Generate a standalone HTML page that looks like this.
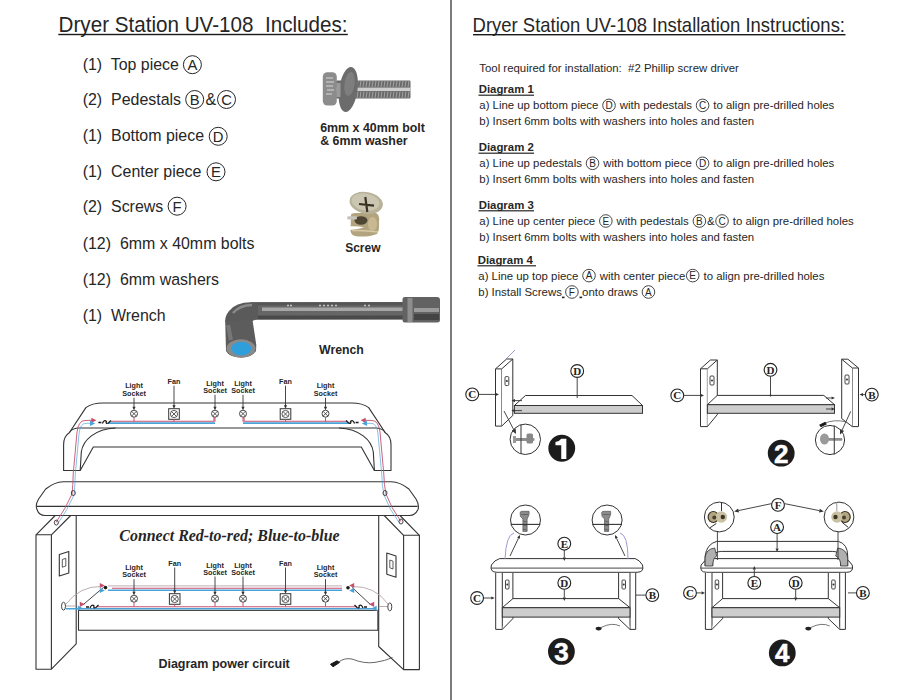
<!DOCTYPE html>
<html><head><meta charset="utf-8"><title>Dryer Station UV-108</title>
<style>
html,body{margin:0;padding:0;background:#fff;width:901px;height:700px;overflow:hidden}
svg{display:block}
text{font-family:"Liberation Sans",sans-serif;white-space:pre}
.sf{font-family:"Liberation Serif",serif}
</style></head><body>
<svg width="901" height="700" viewBox="0 0 901 700">
<rect width="901" height="700" fill="#fff"/>
<line x1="451" y1="0" x2="451" y2="700" stroke="#7c7c7c" stroke-width="2"/>
<text x="58.60" y="31.80" font-size="21.6" font-weight="normal" fill="#262626" text-anchor="start" textLength="289" lengthAdjust="spacingAndGlyphs">Dryer Station UV-108  Includes:</text>
<rect x="58.3" y="33.8" width="289.5" height="1.4" fill="#1a1a1a"/>
<text x="472.60" y="32.10" font-size="20.6" font-weight="normal" fill="#262626" text-anchor="start" textLength="372.4" lengthAdjust="spacingAndGlyphs">Dryer Station UV-108 Installation Instructions:</text>
<rect x="473" y="34.0" width="372.5" height="1.4" fill="#1a1a1a"/>
<text x="82.70" y="70.00" font-size="15.95" font-weight="normal" fill="#262626" text-anchor="start" >(1)  Top piece</text>
<text x="82.70" y="105.00" font-size="15.95" font-weight="normal" fill="#262626" text-anchor="start" >(2)  Pedestals</text>
<text x="82.70" y="141.00" font-size="15.95" font-weight="normal" fill="#262626" text-anchor="start" >(1)  Bottom piece</text>
<text x="82.70" y="177.00" font-size="15.95" font-weight="normal" fill="#262626" text-anchor="start" >(1)  Center piece</text>
<text x="82.70" y="212.40" font-size="15.95" font-weight="normal" fill="#262626" text-anchor="start" >(2)  Screws</text>
<text x="82.70" y="249.00" font-size="15.95" font-weight="normal" fill="#262626" text-anchor="start" >(12)  6mm x 40mm bolts</text>
<text x="82.70" y="285.00" font-size="15.95" font-weight="normal" fill="#262626" text-anchor="start" >(12)  6mm washers</text>
<text x="82.70" y="321.00" font-size="15.95" font-weight="normal" fill="#262626" text-anchor="start" >(1)  Wrench</text>
<circle cx="192.40" cy="64.70" r="9" fill="none" stroke="#262626" stroke-width="1.0"/>
<text x="192.40" y="70.00" font-size="14.8" font-weight="normal" fill="#262626" text-anchor="middle">A</text>
<circle cx="194.70" cy="99.50" r="9" fill="none" stroke="#262626" stroke-width="1.0"/>
<text x="194.70" y="104.80" font-size="14.8" font-weight="normal" fill="#262626" text-anchor="middle">B</text>
<circle cx="226.50" cy="99.50" r="9" fill="none" stroke="#262626" stroke-width="1.0"/>
<text x="226.50" y="104.80" font-size="14.8" font-weight="normal" fill="#262626" text-anchor="middle">C</text>
<circle cx="218.20" cy="136.30" r="9" fill="none" stroke="#262626" stroke-width="1.0"/>
<text x="218.20" y="141.60" font-size="14.8" font-weight="normal" fill="#262626" text-anchor="middle">D</text>
<circle cx="216.00" cy="171.80" r="9" fill="none" stroke="#262626" stroke-width="1.0"/>
<text x="216.00" y="177.10" font-size="14.8" font-weight="normal" fill="#262626" text-anchor="middle">E</text>
<circle cx="177.10" cy="206.20" r="9" fill="none" stroke="#262626" stroke-width="1.0"/>
<text x="177.10" y="211.50" font-size="14.8" font-weight="normal" fill="#262626" text-anchor="middle">F</text>
<text x="205.60" y="105.00" font-size="15.95" font-weight="normal" fill="#262626" text-anchor="start" >&amp;</text>
<text x="479.30" y="71.60" font-size="11.4" font-weight="normal" fill="#262626" text-anchor="start" >Tool required for installation:  #2 Phillip screw driver</text>
<text x="478.70" y="93.20" font-size="11.4" font-weight="bold" fill="#262626" text-anchor="start" >Diagram 1</text>
<rect x="478.50" y="94.60" width="55.50" height="1.2" fill="#262626"/>
<text x="479.30" y="109.40" font-size="11.4" font-weight="normal" fill="#262626" text-anchor="start" >a) Line up bottom piece </text>
<circle cx="609.01" cy="105.40" r="6.3" fill="none" stroke="#262626" stroke-width="0.85"/>
<text x="609.01" y="109.00" font-size="10" font-weight="normal" fill="#262626" text-anchor="middle">D</text>
<text x="616.61" y="109.40" font-size="11.4" font-weight="normal" fill="#262626" text-anchor="start" > with pedestals </text>
<circle cx="702.58" cy="105.40" r="6.3" fill="none" stroke="#262626" stroke-width="0.85"/>
<text x="702.58" y="109.00" font-size="10" font-weight="normal" fill="#262626" text-anchor="middle">C</text>
<text x="710.18" y="109.40" font-size="11.4" font-weight="normal" fill="#262626" text-anchor="start" > to align pre-drilled holes</text>
<text x="479.30" y="125.20" font-size="11.4" font-weight="normal" fill="#262626" text-anchor="start" >b) Insert 6mm bolts with washers into holes and fasten</text>
<text x="478.70" y="151.20" font-size="11.4" font-weight="bold" fill="#262626" text-anchor="start" >Diagram 2</text>
<rect x="478.50" y="152.60" width="55.50" height="1.2" fill="#262626"/>
<text x="479.30" y="167.30" font-size="11.4" font-weight="normal" fill="#262626" text-anchor="start" >a) Line up pedestals </text>
<circle cx="592.54" cy="163.30" r="6.3" fill="none" stroke="#262626" stroke-width="0.85"/>
<text x="592.54" y="166.90" font-size="10" font-weight="normal" fill="#262626" text-anchor="middle">B</text>
<text x="600.14" y="167.30" font-size="11.4" font-weight="normal" fill="#262626" text-anchor="start" > with bottom piece </text>
<circle cx="702.58" cy="163.30" r="6.3" fill="none" stroke="#262626" stroke-width="0.85"/>
<text x="702.58" y="166.90" font-size="10" font-weight="normal" fill="#262626" text-anchor="middle">D</text>
<text x="710.18" y="167.30" font-size="11.4" font-weight="normal" fill="#262626" text-anchor="start" > to align pre-drilled holes</text>
<text x="479.30" y="183.30" font-size="11.4" font-weight="normal" fill="#262626" text-anchor="start" >b) Insert 6mm bolts with washers into holes and fasten</text>
<text x="478.70" y="208.80" font-size="11.4" font-weight="bold" fill="#262626" text-anchor="start" >Diagram 3</text>
<rect x="478.50" y="210.20" width="55.50" height="1.2" fill="#262626"/>
<text x="479.30" y="225.00" font-size="11.4" font-weight="normal" fill="#262626" text-anchor="start" >a) Line up center piece </text>
<circle cx="605.84" cy="221.00" r="6.3" fill="none" stroke="#262626" stroke-width="0.85"/>
<text x="605.84" y="224.60" font-size="10" font-weight="normal" fill="#262626" text-anchor="middle">E</text>
<text x="613.44" y="225.00" font-size="11.4" font-weight="normal" fill="#262626" text-anchor="start" > with pedestals </text>
<circle cx="699.41" cy="221.00" r="6.3" fill="none" stroke="#262626" stroke-width="0.85"/>
<text x="699.41" y="224.60" font-size="10" font-weight="normal" fill="#262626" text-anchor="middle">B</text>
<text x="707.01" y="225.00" font-size="11.4" font-weight="normal" fill="#262626" text-anchor="start" >&amp;</text>
<circle cx="722.02" cy="221.00" r="6.3" fill="none" stroke="#262626" stroke-width="0.85"/>
<text x="722.02" y="224.60" font-size="10" font-weight="normal" fill="#262626" text-anchor="middle">C</text>
<text x="729.62" y="225.00" font-size="11.4" font-weight="normal" fill="#262626" text-anchor="start" > to align pre-drilled holes</text>
<text x="479.30" y="240.80" font-size="11.4" font-weight="normal" fill="#262626" text-anchor="start" >b) Insert 6mm bolts with washers into holes and fasten</text>
<text x="477.70" y="263.80" font-size="11.4" font-weight="bold" fill="#262626" text-anchor="start" >Diagram 4</text>
<rect x="477.50" y="265.20" width="58.50" height="1.2" fill="#262626"/>
<text x="478.30" y="279.60" font-size="11.4" font-weight="normal" fill="#262626" text-anchor="start" >a) Line up top piece </text>
<circle cx="589.00" cy="275.60" r="6.3" fill="none" stroke="#262626" stroke-width="0.85"/>
<text x="589.00" y="279.20" font-size="10" font-weight="normal" fill="#262626" text-anchor="middle">A</text>
<text x="596.60" y="279.60" font-size="11.4" font-weight="normal" fill="#262626" text-anchor="start" > with center piece</text>
<circle cx="692.71" cy="275.60" r="6.3" fill="none" stroke="#262626" stroke-width="0.85"/>
<text x="692.71" y="279.20" font-size="10" font-weight="normal" fill="#262626" text-anchor="middle">E</text>
<text x="700.31" y="279.60" font-size="11.4" font-weight="normal" fill="#262626" text-anchor="start" > to align pre-drilled holes</text>
<text x="478.30" y="296.00" font-size="11.4" font-weight="normal" fill="#262626" text-anchor="start" >b) Install Screws</text>
<rect x="561.92" y="296.60" width="2.6" height="1.6" fill="#262626"/>
<circle cx="571.92" cy="292.00" r="6.3" fill="none" stroke="#262626" stroke-width="0.85"/>
<text x="571.92" y="295.60" font-size="10" font-weight="normal" fill="#262626" text-anchor="middle">F</text>
<rect x="579.52" y="296.60" width="2.6" height="1.6" fill="#262626"/>
<text x="582.12" y="296.00" font-size="11.4" font-weight="normal" fill="#262626" text-anchor="start" >onto draws </text>
<circle cx="648.45" cy="292.00" r="6.3" fill="none" stroke="#262626" stroke-width="0.85"/>
<text x="648.45" y="295.60" font-size="10" font-weight="normal" fill="#262626" text-anchor="middle">A</text>
<g>
<rect x="336" y="80.5" width="74.5" height="18" rx="1" fill="#6a6a6a"/>
<rect x="336" y="87.6" width="74.5" height="3.4" fill="#cdcdcd"/>
<g stroke="#a9a9a9" stroke-width="0.9"><line x1="358" y1="81" x2="357" y2="87"/><line x1="358" y1="91.5" x2="357" y2="98"/><line x1="361" y1="81" x2="360" y2="87"/><line x1="361" y1="91.5" x2="360" y2="98"/><line x1="364" y1="81" x2="363" y2="87"/><line x1="364" y1="91.5" x2="363" y2="98"/><line x1="367" y1="81" x2="366" y2="87"/><line x1="367" y1="91.5" x2="366" y2="98"/><line x1="370" y1="81" x2="369" y2="87"/><line x1="370" y1="91.5" x2="369" y2="98"/><line x1="373" y1="81" x2="372" y2="87"/><line x1="373" y1="91.5" x2="372" y2="98"/><line x1="376" y1="81" x2="375" y2="87"/><line x1="376" y1="91.5" x2="375" y2="98"/><line x1="379" y1="81" x2="378" y2="87"/><line x1="379" y1="91.5" x2="378" y2="98"/><line x1="382" y1="81" x2="381" y2="87"/><line x1="382" y1="91.5" x2="381" y2="98"/><line x1="385" y1="81" x2="384" y2="87"/><line x1="385" y1="91.5" x2="384" y2="98"/><line x1="388" y1="81" x2="387" y2="87"/><line x1="388" y1="91.5" x2="387" y2="98"/><line x1="391" y1="81" x2="390" y2="87"/><line x1="391" y1="91.5" x2="390" y2="98"/><line x1="394" y1="81" x2="393" y2="87"/><line x1="394" y1="91.5" x2="393" y2="98"/><line x1="397" y1="81" x2="396" y2="87"/><line x1="397" y1="91.5" x2="396" y2="98"/><line x1="400" y1="81" x2="399" y2="87"/><line x1="400" y1="91.5" x2="399" y2="98"/><line x1="403" y1="81" x2="402" y2="87"/><line x1="403" y1="91.5" x2="402" y2="98"/><line x1="406" y1="81" x2="405" y2="87"/><line x1="406" y1="91.5" x2="405" y2="98"/><line x1="409" y1="81" x2="408" y2="87"/><line x1="409" y1="91.5" x2="408" y2="98"/></g>
<ellipse cx="348.3" cy="89.5" rx="9.2" ry="22.8" transform="rotate(8 348.3 89.5)" fill="#6c6c6c"/>
<ellipse cx="349.5" cy="84" rx="5" ry="12" transform="rotate(8 349.5 84)" fill="#7e7e7e"/>
<rect x="322.8" y="72.2" width="14" height="33.3" rx="4.5" fill="#8c8c8c"/>
<g stroke="#c8c8c8" stroke-width="1.3">
<line x1="326" y1="78" x2="333" y2="78"/><line x1="326" y1="82" x2="334" y2="82"/><line x1="326" y1="86" x2="333" y2="86"/><line x1="327" y1="90" x2="334" y2="90"/><line x1="326" y1="94" x2="332" y2="94"/>
</g>
<rect x="336.5" y="83" width="4" height="14" fill="#9a9a9a"/>
</g>
<text x="320.20" y="131.90" font-size="12.4" font-weight="bold" fill="#262626" text-anchor="start" >6mm x 40mm bolt</text>
<text x="320.20" y="145.20" font-size="12.4" font-weight="bold" fill="#262626" text-anchor="start" >&amp; 6mm washer</text>
<g>
<path d="M351 216 Q350 213 356 213 L376 213 Q380 215 379 222 Q379.5 231 377 234 Q370 237 358 236.5 Q351 236 350.5 231 Z" fill="#b2a47f"/>
<ellipse cx="372.5" cy="224" rx="4.5" ry="7" fill="#c8b993"/>
<ellipse cx="361" cy="220.5" rx="6.5" ry="4.2" fill="#4e4533"/>
<path d="M348 226.5 Q356 225.5 364 227.5 Q356 229.5 349 230 Z" fill="#fff"/>
<rect x="347.2" y="216.2" width="9.7" height="3.2" rx="1.2" fill="#c5c3bb"/>
<path d="M352 230.5 Q365 230 378 232" stroke="#d6c9a4" stroke-width="1.5" fill="none"/>
<ellipse cx="366.2" cy="202.9" rx="16.8" ry="10.8" transform="rotate(10 366.2 202.9)" fill="#b8b29b"/>
<ellipse cx="365.5" cy="202" rx="14" ry="8.5" transform="rotate(10 365.5 202)" fill="#cbc6b2"/>
<path d="M359 204 L374 205.6 M365.3 197 L367.3 212" stroke="#3a3122" stroke-width="2.2"/>
</g>
<text x="345.20" y="252.00" font-size="12" font-weight="bold" fill="#262626" text-anchor="start" >Screw</text>
<g>
<path d="M250 302.3 L403 302 L403 319.3 L255 319.6 Z" fill="#666"/>
<rect x="258" y="302.3" width="145" height="3" fill="#555"/>
<rect x="262" y="307.5" width="141" height="3.5" fill="#a6a6a6"/>
<rect x="258" y="315.5" width="145" height="4" fill="#4a4a4a"/>
<path d="M402.5 299 Q402.5 297 405 297 L437 297 Q440 297 440 300 L440 320 Q440 322.5 437 322.5 L405 322.5 Q402.5 322.5 402.5 320 Z" fill="#626262"/>
<rect x="407.5" y="298" width="5" height="24" fill="#8e8e8e"/>
<rect x="414" y="308" width="25" height="4" fill="#9a9a9a"/>
<rect x="414" y="314" width="25" height="6" fill="#444"/>
<path d="M252 302.3 Q236 302 229 311 Q224.5 317 225.2 322 L252.5 321 Q254 319.6 258 319.6 L258 302.3 Z" fill="#5a5a5a"/>
<path d="M233 313 Q240 305 252 305" stroke="#8a8a8a" stroke-width="2.5" fill="none"/>
<path d="M225.2 321 L252.5 320 L256.3 345 L256 351 Q251 358 241 357.5 Q229 357 226 351 Z" fill="#5c5c5c"/>
<path d="M228 325 L231 340" stroke="#777" stroke-width="4"/>
<ellipse cx="241" cy="348.5" rx="14.5" ry="9.2" fill="#8a8a8a"/>
<ellipse cx="241.3" cy="348.6" rx="10" ry="6.8" fill="#2e9fdb"/>
</g>
<g fill="#c9c9c9"><circle cx="288" cy="305.5" r="1"/><circle cx="291" cy="305.5" r="1"/><circle cx="320" cy="305.5" r="1"/><circle cx="324" cy="305.5" r="1"/><circle cx="328" cy="305.5" r="1"/><circle cx="332" cy="305.5" r="1"/><circle cx="336" cy="305.5" r="1"/><circle cx="365" cy="305.5" r="1"/><circle cx="369" cy="305.5" r="1"/></g>
<text x="319.00" y="353.70" font-size="12.3" font-weight="bold" fill="#262626" text-anchor="start" >Wrench</text>
<g fill="none" stroke="#333" stroke-width="1.1" stroke-linejoin="round">
<path d="M63.6 470.5 L63.6 445 Q63.6 436 69.3 432.7 L85.9 407.6 Q92 403 103 403 L351.6 403 Q362.6 403 368.7 407.6 L385.3 432.7 Q391 436 391 445 L391 470.5 L374.4 470.5 L361.3 447 L93.3 447 L80.2 470.5 Z"/>
<path d="M69.3 432.7 Q72 428.3 78 428 L376.6 428 Q382.6 428.3 385.3 432.7"/>
<path d="M80.2 470.5 L81.3 452 C83 440 95 429 115.6 428"/>
<path d="M374.4 470.5 L373.3 452 C371.6 440 359.6 429 339 428"/>
<path d="M63.2 481.8 L391.4 481.8 Q399.9 482 408.9 489 L416 499 Q419.5 505 418 509.5 Q415 515.5 409.6 515.5 L45 515.5 Q39 515.5 37 509.5 Q35 505 38.6 499 L45.7 489 Q54.7 482 63.2 481.8 Z"/>
<path d="M37 506.4 L417.6 506.4"/>
<path d="M36 669.2 L36 534.8 L51.4 534.8 L51.4 669.2 Z"/>
<path d="M36 534.8 L55.2 515.5 M51.4 534.8 L70.7 515.5 M51.4 669.2 L76.2 643.9 L76.2 515.5"/>
<path d="M59.3 554.5 L68.8 551.5 L68.8 573 L59.3 576 Z"/><path d="M62.3 559.5 L65.8 558.3 L65.8 566 L62.3 567.2 Z" stroke-width="0.8"/>
<path d="M403.6 669.6 L403.6 535.3 L419.4 535.3 L419.4 669.6 Z"/>
<path d="M419.4 535.3 L400 515.5 M403.6 535.3 L384.2 515.5 M403.6 669.6 L378.7 646.5 L378.7 515.5"/>
<path d="M386.8 553 L396 556 L396 577.3 L386.8 574.3 Z"/><path d="M389.8 560 L393 561.2 L393 569 L389.8 567.8 Z" stroke-width="0.8"/>
<path d="M78.5 609.7 L78.5 630.2 L377.9 630.2 L377.9 609.7"/>
</g>
<path d="M111 421.3 L214 421.3 L214 417 M244 417 L244 421.3 L347 421.3" stroke="#c4506e" stroke-width="1.1" fill="none"/>
<path d="M108 423.1 L215 423.1 M243 423.1 L350 423.1" stroke="#4aa3d8" stroke-width="1.7" fill="none"/>
<path d="M56 522.4 Q66 508 72 494 Q73 485 73.2 474 L77 432 Q78.5 420.5 85 420.5 L92 420.3" stroke="#c4506e" stroke-width="0.9" fill="none"/>
<path d="M58 523.5 Q68 509 74 495 Q75 486 75.2 475 L79 434 Q80 423.3 86 423.3 L90 423.3" stroke="#4aa3d8" stroke-width="0.9" fill="none" opacity="0.75"/>
<path d="M401 521.5 Q391 508 386 494 Q384 485 383.8 474 L380 432 Q378.5 420.5 372 420.5 L365 420.3" stroke="#c4506e" stroke-width="0.9" fill="none"/>
<path d="M399 522.5 Q389 509 384 495 Q382 486 381.8 475 L378 434 Q377 423.3 371 423.3 L367 423.3" stroke="#4aa3d8" stroke-width="0.9" fill="none" opacity="0.75"/>
<path d="M91.3 417.7 L96.4 420.3 L91.3 422.9Z" fill="#c4506e"/>
<path d="M90.0 420.8 L95.1 423.4 L90.0 426.0Z" fill="#4aa3d8"/>
<path d="M365.7 417.7 L360.6 420.3 L365.7 422.9Z" fill="#c4506e"/>
<path d="M367.0 420.8 L361.9 423.4 L367.0 426.0Z" fill="#4aa3d8"/>
<path d="M98.4 422.5 L101.4 422.5 M102.4 423.5 Q104.4 419 106.4 421.5 Q105.4 424 108.4 423 L110.9 420.5" stroke="#1a1a1a" stroke-width="1.3" fill="none"/>
<path d="M358.6 422.5 L355.6 422.5 M354.6 423.5 Q352.6 419 350.6 421.5 Q351.6 424 348.6 423 L346.1 420.5" stroke="#1a1a1a" stroke-width="1.3" fill="none"/>
<circle cx="134" cy="413.7" r="3.5" fill="#fff" stroke="#333" stroke-width="0.9"/>
<path d="M131.6 411.3 L136.4 416.09999999999997 M136.4 411.3 L131.6 416.09999999999997" stroke="#333" stroke-width="0.8"/>
<text x="134.00" y="387.50" font-size="7.2" font-weight="bold" fill="#262626" text-anchor="middle" >Light</text>
<text x="134.00" y="395.80" font-size="7.2" font-weight="bold" fill="#262626" text-anchor="middle" >Socket</text>
<line x1="134" y1="397.8" x2="134" y2="408.7" stroke="#333" stroke-width="0.9"/>
<path d="M132.4 406.7 L134 410.2 L135.6 406.7Z" fill="#333"/>
<line x1="134" y1="417.2" x2="134" y2="421.6" stroke="#c4506e" stroke-width="1"/>
<rect x="168.7" y="408.7" width="10.6" height="10.6" fill="none" stroke="#333" stroke-width="1"/>
<circle cx="174" cy="414" r="3.6" fill="none" stroke="#333" stroke-width="0.8"/>
<path d="M171.5 411.5 L176.5 416.5 M176.5 411.5 L171.5 416.5" stroke="#333" stroke-width="0.8"/>
<text x="174.00" y="383.70" font-size="7.2" font-weight="bold" fill="#262626" text-anchor="middle" >Fan</text>
<line x1="174" y1="385.7" x2="174" y2="407.2" stroke="#333" stroke-width="0.9"/>
<path d="M172.4 405.2 L174 408.7 L175.6 405.2Z" fill="#333"/>
<line x1="174" y1="419.3" x2="174" y2="421.6" stroke="#c4506e" stroke-width="1"/>
<circle cx="215" cy="413.7" r="3.5" fill="#fff" stroke="#333" stroke-width="0.9"/>
<path d="M212.6 411.3 L217.4 416.09999999999997 M217.4 411.3 L212.6 416.09999999999997" stroke="#333" stroke-width="0.8"/>
<text x="215.00" y="385.80" font-size="7.2" font-weight="bold" fill="#262626" text-anchor="middle" >Light</text>
<text x="215.00" y="392.80" font-size="7.2" font-weight="bold" fill="#262626" text-anchor="middle" >Socket</text>
<line x1="215" y1="394.8" x2="215" y2="408.7" stroke="#333" stroke-width="0.9"/>
<path d="M213.4 406.7 L215 410.2 L216.6 406.7Z" fill="#333"/>
<line x1="215" y1="417.2" x2="215" y2="421.6" stroke="#c4506e" stroke-width="1"/>
<circle cx="243" cy="413.7" r="3.5" fill="#fff" stroke="#333" stroke-width="0.9"/>
<path d="M240.6 411.3 L245.4 416.09999999999997 M245.4 411.3 L240.6 416.09999999999997" stroke="#333" stroke-width="0.8"/>
<text x="243.00" y="385.80" font-size="7.2" font-weight="bold" fill="#262626" text-anchor="middle" >Light</text>
<text x="243.00" y="392.80" font-size="7.2" font-weight="bold" fill="#262626" text-anchor="middle" >Socket</text>
<line x1="243" y1="394.8" x2="243" y2="408.7" stroke="#333" stroke-width="0.9"/>
<path d="M241.4 406.7 L243 410.2 L244.6 406.7Z" fill="#333"/>
<line x1="243" y1="417.2" x2="243" y2="421.6" stroke="#c4506e" stroke-width="1"/>
<rect x="280.2" y="408.7" width="10.6" height="10.6" fill="none" stroke="#333" stroke-width="1"/>
<circle cx="285.5" cy="414" r="3.6" fill="none" stroke="#333" stroke-width="0.8"/>
<path d="M283.0 411.5 L288.0 416.5 M288.0 411.5 L283.0 416.5" stroke="#333" stroke-width="0.8"/>
<text x="285.50" y="383.70" font-size="7.2" font-weight="bold" fill="#262626" text-anchor="middle" >Fan</text>
<line x1="285.5" y1="385.7" x2="285.5" y2="407.2" stroke="#333" stroke-width="0.9"/>
<path d="M283.9 405.2 L285.5 408.7 L287.1 405.2Z" fill="#333"/>
<line x1="285.5" y1="419.3" x2="285.5" y2="421.6" stroke="#c4506e" stroke-width="1"/>
<circle cx="325.5" cy="413.7" r="3.5" fill="#fff" stroke="#333" stroke-width="0.9"/>
<path d="M323.1 411.3 L327.9 416.09999999999997 M327.9 411.3 L323.1 416.09999999999997" stroke="#333" stroke-width="0.8"/>
<text x="325.50" y="387.50" font-size="7.2" font-weight="bold" fill="#262626" text-anchor="middle" >Light</text>
<text x="325.50" y="395.80" font-size="7.2" font-weight="bold" fill="#262626" text-anchor="middle" >Socket</text>
<line x1="325.5" y1="397.8" x2="325.5" y2="408.7" stroke="#333" stroke-width="0.9"/>
<path d="M323.9 406.7 L325.5 410.2 L327.1 406.7Z" fill="#333"/>
<line x1="325.5" y1="417.2" x2="325.5" y2="421.6" stroke="#c4506e" stroke-width="1"/>
<text x="119.3" y="540.8" class="sf" font-style="italic" font-weight="bold" font-size="16" fill="#262626" textLength="220.3" lengthAdjust="spacingAndGlyphs">Connect Red-to-red; Blue-to-blue</text>
<path d="M108 585.9 L342 585.9" stroke="#b8a4ac" stroke-width="0.9" fill="none"/>
<path d="M112 588.2 L342 588.2" stroke="#c4506e" stroke-width="1.1" fill="none"/>
<path d="M108 590.2 L342 590.2" stroke="#4aa3d8" stroke-width="1.6" fill="none"/>
<path d="M97.3 606.7 L357 606.7" stroke="#c4506e" stroke-width="1.1" fill="none"/>
<path d="M66 608.8 L375 608.8" stroke="#4aa3d8" stroke-width="1.6" fill="none"/>
<path d="M78.5 610.4 L377 610.4" stroke="#333" stroke-width="1" fill="none"/>
<circle cx="134" cy="598.7" r="3.5" fill="#fff" stroke="#333" stroke-width="0.9"/>
<path d="M131.6 596.3000000000001 L136.4 601.1 M136.4 596.3000000000001 L131.6 601.1" stroke="#333" stroke-width="0.8"/>
<text x="134.00" y="570.00" font-size="7.2" font-weight="bold" fill="#262626" text-anchor="middle" >Light</text>
<text x="134.00" y="577.20" font-size="7.2" font-weight="bold" fill="#262626" text-anchor="middle" >Socket</text>
<line x1="134" y1="579.2" x2="134" y2="593.7" stroke="#333" stroke-width="0.9"/>
<path d="M132.4 591.7 L134 595.2 L135.6 591.7Z" fill="#333"/>
<line x1="134" y1="602.2" x2="134" y2="606.7" stroke="#c4506e" stroke-width="1"/>
<rect x="169.4" y="593.7" width="10.6" height="10.6" fill="none" stroke="#333" stroke-width="1"/>
<circle cx="174.7" cy="599" r="3.6" fill="none" stroke="#333" stroke-width="0.8"/>
<path d="M172.2 596.5 L177.2 601.5 M177.2 596.5 L172.2 601.5" stroke="#333" stroke-width="0.8"/>
<text x="174.70" y="565.50" font-size="7.2" font-weight="bold" fill="#262626" text-anchor="middle" >Fan</text>
<line x1="174.7" y1="567.5" x2="174.7" y2="592.2" stroke="#333" stroke-width="0.9"/>
<path d="M173.1 590.2 L174.7 593.7 L176.29999999999998 590.2Z" fill="#333"/>
<line x1="174.7" y1="604.3" x2="174.7" y2="606.7" stroke="#c4506e" stroke-width="1"/>
<circle cx="215" cy="598.7" r="3.5" fill="#fff" stroke="#333" stroke-width="0.9"/>
<path d="M212.6 596.3000000000001 L217.4 601.1 M217.4 596.3000000000001 L212.6 601.1" stroke="#333" stroke-width="0.8"/>
<text x="215.00" y="567.50" font-size="7.2" font-weight="bold" fill="#262626" text-anchor="middle" >Light</text>
<text x="215.00" y="574.50" font-size="7.2" font-weight="bold" fill="#262626" text-anchor="middle" >Socket</text>
<line x1="215" y1="576.5" x2="215" y2="593.7" stroke="#333" stroke-width="0.9"/>
<path d="M213.4 591.7 L215 595.2 L216.6 591.7Z" fill="#333"/>
<line x1="215" y1="602.2" x2="215" y2="606.7" stroke="#c4506e" stroke-width="1"/>
<circle cx="243" cy="598.7" r="3.5" fill="#fff" stroke="#333" stroke-width="0.9"/>
<path d="M240.6 596.3000000000001 L245.4 601.1 M245.4 596.3000000000001 L240.6 601.1" stroke="#333" stroke-width="0.8"/>
<text x="243.00" y="567.50" font-size="7.2" font-weight="bold" fill="#262626" text-anchor="middle" >Light</text>
<text x="243.00" y="574.50" font-size="7.2" font-weight="bold" fill="#262626" text-anchor="middle" >Socket</text>
<line x1="243" y1="576.5" x2="243" y2="593.7" stroke="#333" stroke-width="0.9"/>
<path d="M241.4 591.7 L243 595.2 L244.6 591.7Z" fill="#333"/>
<line x1="243" y1="602.2" x2="243" y2="606.7" stroke="#c4506e" stroke-width="1"/>
<rect x="280.2" y="593.7" width="10.6" height="10.6" fill="none" stroke="#333" stroke-width="1"/>
<circle cx="285.5" cy="599" r="3.6" fill="none" stroke="#333" stroke-width="0.8"/>
<path d="M283.0 596.5 L288.0 601.5 M288.0 596.5 L283.0 601.5" stroke="#333" stroke-width="0.8"/>
<text x="285.50" y="565.50" font-size="7.2" font-weight="bold" fill="#262626" text-anchor="middle" >Fan</text>
<line x1="285.5" y1="567.5" x2="285.5" y2="592.2" stroke="#333" stroke-width="0.9"/>
<path d="M283.9 590.2 L285.5 593.7 L287.1 590.2Z" fill="#333"/>
<line x1="285.5" y1="604.3" x2="285.5" y2="606.7" stroke="#c4506e" stroke-width="1"/>
<circle cx="325.5" cy="598.7" r="3.5" fill="#fff" stroke="#333" stroke-width="0.9"/>
<path d="M323.1 596.3000000000001 L327.9 601.1 M327.9 596.3000000000001 L323.1 601.1" stroke="#333" stroke-width="0.8"/>
<text x="325.50" y="570.00" font-size="7.2" font-weight="bold" fill="#262626" text-anchor="middle" >Light</text>
<text x="325.50" y="577.20" font-size="7.2" font-weight="bold" fill="#262626" text-anchor="middle" >Socket</text>
<line x1="325.5" y1="579.2" x2="325.5" y2="593.7" stroke="#333" stroke-width="0.9"/>
<path d="M323.9 591.7 L325.5 595.2 L327.1 591.7Z" fill="#333"/>
<line x1="325.5" y1="602.2" x2="325.5" y2="606.7" stroke="#c4506e" stroke-width="1"/>
<path d="M83.3 604.5 L103.5 587.4 M370.4 604.5 L352 587.4" stroke="#333" stroke-width="0.9"/>
<path d="M66 604 Q80 586 101 586.5 M66 606 L76 606" stroke="#b4a4ac" stroke-width="0.9" fill="none"/>
<path d="M388 604 Q375 586 353 586.5 M388 606.5 L379 606.5" stroke="#b4a4ac" stroke-width="0.9" fill="none"/>
<path d="M99.8 582.9 L104.9 585.5 L99.8 588.1Z" fill="#c4506e"/>
<path d="M99.8 587.9 L104.9 590.5 L99.8 593.1Z" fill="#4aa3d8"/>
<circle cx="105.5" cy="587.6" r="1.8" fill="#1a1a1a"/>
<path d="M79.8 601.7 L84.9 604.3 L79.8 606.9Z" fill="#c4506e"/>
<path d="M77.8 605.6 L82.9 608.2 L77.8 610.8Z" fill="#4aa3d8"/>
<path d="M86 607.0 L89 607.0 M90 608.0 Q92 603.5 94 606.0 Q93 608.5 96 607.5 L98.5 605.0" stroke="#1a1a1a" stroke-width="1.3" fill="none"/>
<path d="M354.2 582.9 L349.1 585.5 L354.2 588.1Z" fill="#c4506e"/>
<path d="M354.2 587.9 L349.1 590.5 L354.2 593.1Z" fill="#4aa3d8"/>
<circle cx="348" cy="587.8" r="1.8" fill="#1a1a1a"/>
<path d="M374.2 601.7 L369.1 604.3 L374.2 606.9Z" fill="#c4506e"/>
<path d="M376.7 605.7 L371.6 608.3 L376.7 610.9Z" fill="#4aa3d8"/>
<path d="M367 607.0 L364 607.0 M363 608.0 Q361 603.5 359 606.0 Q360 608.5 357 607.5 L354.5 605.0" stroke="#1a1a1a" stroke-width="1.3" fill="none"/>
<ellipse cx="63.5" cy="606.2" rx="2" ry="4" fill="none" stroke="#333" stroke-width="0.9"/>
<ellipse cx="389.8" cy="606.9" rx="2" ry="4" fill="none" stroke="#333" stroke-width="0.9"/>
<ellipse cx="73.3" cy="493" rx="2" ry="2.5" fill="none" stroke="#333" stroke-width="0.9"/>
<ellipse cx="56.3" cy="522.6" rx="2" ry="2.5" fill="none" stroke="#333" stroke-width="0.9"/>
<ellipse cx="385" cy="493" rx="2" ry="2.5" fill="none" stroke="#333" stroke-width="0.9"/>
<ellipse cx="401" cy="521.5" rx="2" ry="2.5" fill="none" stroke="#333" stroke-width="0.9"/>
<text x="158.40" y="667.90" font-size="12.5" font-weight="bold" fill="#262626" text-anchor="start" textLength="131.4" lengthAdjust="spacingAndGlyphs">Diagram power circuit</text>
<path d="M338 662.5 Q344 657.5 352 659 Q364 664 375 662.4 Q385 661 392.5 657.5" stroke="#555" stroke-width="0.9" fill="none"/>
<path d="M330.5 664.2 L337 660.8 L339.5 662.5 L333 666.8 Z" fill="#1a1a1a" stroke="#1a1a1a" stroke-width="1"/>
<path d="M495.5 426.1 L495.5 368.9 L501.7 368.9 L501.7 426.1 Z" fill="#fff" stroke="#333" stroke-width="1"/>
<path d="M501.7 368.9 L512.8 359 L512.8 415.5 L501.7 426.1" fill="#fff" stroke="#333" stroke-width="1"/>
<path d="M495.5 368.9 L506.59999999999997 359 L512.8 359" fill="none" stroke="#333" stroke-width="1"/>
<rect x="505" y="376.6" width="3.8000000000000114" height="8.899999999999977" rx="1" fill="none" stroke="#333" stroke-width="0.9"/>
<circle cx="506.9" cy="381.05" r="1" fill="#333"/>
<path d="M525.5 395.5 L632 395.5 L642.5 405.5 L514.4 405.5 Z" fill="#fff" stroke="#333" stroke-width="1"/>
<rect x="514.4" y="405.5" width="128.1" height="7.8" fill="#cdcdcd" stroke="#333" stroke-width="1"/>
<circle cx="577.20" cy="371.00" r="6.4" fill="none" stroke="#222" stroke-width="1.1"/>
<text x="577.20" y="374.90" font-size="11" font-weight="bold" fill="#222" text-anchor="middle" class="sf">D</text>
<line x1="577.2" y1="377.4" x2="577.2" y2="398" stroke="#333" stroke-width="0.9"/>
<circle cx="472.20" cy="394.40" r="6.4" fill="none" stroke="#222" stroke-width="1.1"/>
<text x="472.20" y="398.30" font-size="11" font-weight="bold" fill="#222" text-anchor="middle" class="sf">C</text>
<line x1="478.6" y1="394.4" x2="495.50" y2="394.40" stroke="#333" stroke-width="0.9"/>
<path d="M499 394.4 L495.50 395.97 L495.50 392.82Z" fill="#333"/>
<line x1="522" y1="400.6" x2="515.00" y2="400.60" stroke="#333" stroke-width="0.9"/>
<path d="M511.5 400.6 L515.00 399.03 L515.00 402.18Z" fill="#333"/>
<line x1="522" y1="410.6" x2="515.00" y2="410.60" stroke="#333" stroke-width="0.9"/>
<path d="M511.5 410.6 L515.00 409.03 L515.00 412.18Z" fill="#333"/>
<circle cx="525.3" cy="439.3" r="15.2" fill="#fff" stroke="#333" stroke-width="1"/>
<rect x="513" y="438" width="21.5" height="3" rx="1" fill="#8e8e8e"/><rect x="526.5" y="433.5" width="6.5" height="10" rx="1.5" fill="#888"/><rect x="513" y="436" width="3" height="7" fill="#999"/>
<line x1="521" y1="424.5" x2="521" y2="454" stroke="#444" stroke-width="1.1"/>
<line x1="504" y1="411" x2="513.69" y2="429.57" stroke="#333" stroke-width="0.9"/>
<path d="M516 434 L511.69 430.61 L515.68 428.53Z" fill="#333"/>
<path d="M505 360 L515 350" stroke="#8a80c0" stroke-width="0.8"/>
<circle cx="561.75" cy="448.25" r="13.4" fill="#1c1c1c"/>
<path transform="translate(0.25 0.05)" d="M555.2 442 Q559.2 441.6 561 438.8 L566.1 438.8 L566.1 458.9 L561 458.9 L561 445.2 L555.2 445.2 Z" fill="#fff"/>
<path d="M700.5 426.6 L700.5 368.8 L707.4 368.8 L707.4 426.6 Z" fill="#fff" stroke="#333" stroke-width="1"/>
<path d="M707.4 368.8 L717.3 360 L717.3 414.6 L707.4 426.6" fill="#fff" stroke="#333" stroke-width="1"/>
<path d="M700.5 368.8 L710.4 360 L717.3 360" fill="none" stroke="#333" stroke-width="1"/>
<rect x="710" y="376" width="4" height="9" rx="1" fill="none" stroke="#333" stroke-width="0.9"/>
<circle cx="712.0" cy="380.5" r="1" fill="#333"/>
<path d="M717.3 395.4 L823.8 395.4 L834.5 404.7 L707.4 404.7 Z" fill="#fff" stroke="#333" stroke-width="1"/>
<rect x="707.4" y="404.7" width="127.1" height="8.6" fill="#cdcdcd" stroke="#333" stroke-width="1"/>
<path d="M852.3 426.6 L852.3 368 L858.5 368 L858.5 426.6 Z" fill="#fff" stroke="#333" stroke-width="1"/>
<path d="M852.3 368 L841.7 359.2 L841.7 418.6 L852.3 426.6" fill="#fff" stroke="#333" stroke-width="1"/>
<path d="M858.5 368 L847.9000000000001 359.2 L841.7 359.2" fill="none" stroke="#333" stroke-width="1"/>
<rect x="845" y="375" width="4" height="9" rx="1" fill="none" stroke="#333" stroke-width="0.9"/>
<circle cx="847.0" cy="379.5" r="1" fill="#333"/>
<circle cx="770.50" cy="369.80" r="6.4" fill="none" stroke="#222" stroke-width="1.1"/>
<text x="770.50" y="373.70" font-size="11" font-weight="bold" fill="#222" text-anchor="middle" class="sf">D</text>
<line x1="770.5" y1="376.2" x2="770.5" y2="395.4" stroke="#333" stroke-width="0.9"/>
<circle cx="770.5" cy="395.4" r="1" fill="#333"/>
<circle cx="677.30" cy="395.40" r="6.4" fill="none" stroke="#222" stroke-width="1.1"/>
<text x="677.30" y="399.30" font-size="11" font-weight="bold" fill="#222" text-anchor="middle" class="sf">C</text>
<line x1="683.7" y1="395.4" x2="700.50" y2="395.40" stroke="#333" stroke-width="0.9"/>
<path d="M704 395.4 L700.50 396.97 L700.50 393.82Z" fill="#333"/>
<circle cx="871.80" cy="394.60" r="6.4" fill="none" stroke="#222" stroke-width="1.1"/>
<text x="871.80" y="398.50" font-size="11" font-weight="bold" fill="#222" text-anchor="middle" class="sf">B</text>
<line x1="865.4" y1="394.6" x2="863.00" y2="394.60" stroke="#333" stroke-width="0.9"/>
<path d="M859.5 394.6 L863.00 393.03 L863.00 396.18Z" fill="#333"/>
<line x1="826" y1="398" x2="831.50" y2="398.00" stroke="#333" stroke-width="0.9"/>
<path d="M835 398 L831.50 399.57 L831.50 396.43Z" fill="#333"/>
<line x1="826" y1="409" x2="831.50" y2="409.00" stroke="#333" stroke-width="0.9"/>
<path d="M835 409 L831.50 410.57 L831.50 407.43Z" fill="#333"/>
<circle cx="830" cy="440" r="14.6" fill="#fff" stroke="#333" stroke-width="1"/>
<rect x="820.4" y="438" width="22" height="2.8" rx="1" fill="#8e8e8e"/><ellipse cx="824.5" cy="439" rx="4.5" ry="5.5" fill="#9a9a9a"/>
<line x1="834.3" y1="425.5" x2="834.3" y2="454.5" stroke="#444" stroke-width="1.1"/>
<line x1="850.7" y1="411.4" x2="842.09" y2="430.06" stroke="#333" stroke-width="0.9"/>
<path d="M840 434.6 L840.05 429.12 L844.14 431.00Z" fill="#333"/>
<path d="M824 423.5 Q834 419 846 421.8" stroke="#555" stroke-width="0.8" fill="none"/><path d="M820 425 L825 422.5 L826 424 L821 426.5Z" fill="#1a1a1a" stroke="#1a1a1a" stroke-width="1.2"/>
<circle cx="781.2" cy="453.2" r="13.4" fill="#1c1c1c"/>
<text x="781.2" y="462.5" font-size="26" font-weight="bold" fill="#fff" stroke="#fff" stroke-width="0.5" text-anchor="middle">2</text>
<path d="M499.7 558.6 L635.2 558.6 Q639.5 560 642.5 565 Q644.5 572.3 637 572.3 L497 572.3 Q489.5 572.3 491.4 565 Q494.5 560 499.7 558.6 Z" fill="#fff" stroke="#333" stroke-width="1"/>
<line x1="491.2" y1="568.1" x2="642.8" y2="568.1" stroke="#333" stroke-width="0.9"/>
<path d="M495.7 572.9 L495.7 629.4 L502.3 629.4 L502.3 572.9" fill="#fff" stroke="#333" stroke-width="1"/>
<path d="M502.3 629.4 L512.9 618.6 L512.9 572.9" fill="#fff" stroke="#333" stroke-width="1"/>
<path d="M635.7 572.9 L635.7 629.4 L630 629.4 L630 572.9" fill="#fff" stroke="#333" stroke-width="1"/>
<path d="M630 629.4 L618.6 618.6 L618.6 572.9" fill="#fff" stroke="#333" stroke-width="1"/>
<path d="M512.9 598.6 L618.6 598.6 L630 607.7 L502.3 607.7 Z" fill="#fff" stroke="#333" stroke-width="1"/>
<rect x="502.3" y="607.7" width="127.7" height="9.4" fill="#cdcdcd" stroke="#333" stroke-width="1"/>
<rect x="505.5" y="580" width="3.5" height="9" rx="1" fill="none" stroke="#333" stroke-width="0.9"/>
<circle cx="507.25" cy="584.5" r="1" fill="#333"/>
<rect x="622" y="580" width="3.5" height="9" rx="1" fill="none" stroke="#333" stroke-width="0.9"/>
<circle cx="623.75" cy="584.5" r="1" fill="#333"/>
<path d="M601 627.5 Q612 622 620 626" stroke="#555" stroke-width="0.8" fill="none"/><ellipse cx="598.6" cy="628.6" rx="3" ry="1.8" fill="#222"/>
<circle cx="564.30" cy="543.70" r="6.4" fill="none" stroke="#222" stroke-width="1.1"/>
<text x="564.30" y="547.60" font-size="11" font-weight="bold" fill="#222" text-anchor="middle" class="sf">E</text>
<line x1="564.3" y1="550.1" x2="564.30" y2="557.50" stroke="#333" stroke-width="0.9"/>
<path d="M564.3 561 L562.72 557.50 L565.88 557.50Z" fill="#333"/>
<circle cx="564.30" cy="582.90" r="6.4" fill="none" stroke="#222" stroke-width="1.1"/>
<text x="564.30" y="586.80" font-size="11" font-weight="bold" fill="#222" text-anchor="middle" class="sf">D</text>
<line x1="564.3" y1="589.3" x2="564.30" y2="597.50" stroke="#333" stroke-width="0.9"/>
<path d="M564.3 601 L562.72 597.50 L565.88 597.50Z" fill="#333"/>
<circle cx="477.10" cy="598.00" r="6.4" fill="none" stroke="#222" stroke-width="1.1"/>
<text x="477.10" y="601.90" font-size="11" font-weight="bold" fill="#222" text-anchor="middle" class="sf">C</text>
<line x1="483.5" y1="598" x2="491.20" y2="598.00" stroke="#333" stroke-width="0.9"/>
<path d="M494.7 598 L491.20 599.58 L491.20 596.42Z" fill="#333"/>
<circle cx="652.30" cy="595.10" r="6.4" fill="none" stroke="#222" stroke-width="1.1"/>
<text x="652.30" y="599.00" font-size="11" font-weight="bold" fill="#222" text-anchor="middle" class="sf">B</text>
<line x1="645.9" y1="595.1" x2="636" y2="595.1" stroke="#333" stroke-width="0.9"/>
<circle cx="525.5" cy="520" r="15" fill="#fff" stroke="#333" stroke-width="1"/>
<path d="M520.0 512.5 Q520.5 511 523.5 511.3 L529.0 511.3 Q529.5 514 528.5 516 L527.1 519 L527.1 531.4 L522.9 531.4 L522.9 519 L520.5 516.5 Z" fill="#8c8c8c" stroke="#555" stroke-width="0.7"/>
<path d="M522.9 521 L527.1 522 M522.9 525 L527.1 526 M522.9 529 L527.1 530 M521.5 514.5 L528.0 514.5" stroke="#5a5a5a" stroke-width="0.8"/>
<line x1="510.7" y1="524.4" x2="540.3" y2="524.4" stroke="#333" stroke-width="1.1"/>
<circle cx="607.1" cy="520" r="15" fill="#fff" stroke="#333" stroke-width="1"/>
<path d="M601.6 512.5 Q602.1 511 605.1 511.3 L610.6 511.3 Q611.1 514 610.1 516 L608.7 519 L608.7 531.4 L604.5 531.4 L604.5 519 L602.1 516.5 Z" fill="#8c8c8c" stroke="#555" stroke-width="0.7"/>
<path d="M604.5 521 L608.7 522 M604.5 525 L608.7 526 M604.5 529 L608.7 530 M603.1 514.5 L609.6 514.5" stroke="#5a5a5a" stroke-width="0.8"/>
<line x1="592.3000000000001" y1="524.4" x2="621.9" y2="524.4" stroke="#333" stroke-width="1.1"/>
<line x1="510" y1="556" x2="518.50" y2="538.16" stroke="#333" stroke-width="0.9"/>
<path d="M520 535 L519.92 538.84 L517.07 537.48Z" fill="#333"/>
<line x1="625" y1="556" x2="616.50" y2="538.16" stroke="#333" stroke-width="0.9"/>
<path d="M615 535 L617.93 537.48 L615.08 538.84Z" fill="#333"/>
<path d="M505 559 Q506 535 514 533 M628 559 Q628 535 620 533" stroke="#9a8ac8" stroke-width="0.9" fill="none"/>
<circle cx="561.4" cy="651.4" r="13.4" fill="#1c1c1c"/>
<text x="561.4" y="660.6999999999999" font-size="26" font-weight="bold" fill="#fff" stroke="#fff" stroke-width="0.5" text-anchor="middle">3</text>
<path d="M709.4 558.6 L844.9000000000001 558.6 Q849.2 560 852.2 565 Q854.2 572.3 846.7 572.3 L706.7 572.3 Q699.2 572.3 701.0999999999999 565 Q704.2 560 709.4 558.6 Z" fill="#fff" stroke="#333" stroke-width="1"/>
<line x1="700.9" y1="568.1" x2="852.5" y2="568.1" stroke="#333" stroke-width="0.9"/>
<path d="M705.4 572.9 L705.4 629.4 L712.0 629.4 L712.0 572.9" fill="#fff" stroke="#333" stroke-width="1"/>
<path d="M712.0 629.4 L722.5999999999999 618.6 L722.5999999999999 572.9" fill="#fff" stroke="#333" stroke-width="1"/>
<path d="M845.4000000000001 572.9 L845.4000000000001 629.4 L839.7 629.4 L839.7 572.9" fill="#fff" stroke="#333" stroke-width="1"/>
<path d="M839.7 629.4 L828.3 618.6 L828.3 572.9" fill="#fff" stroke="#333" stroke-width="1"/>
<path d="M722.5999999999999 598.6 L828.3 598.6 L839.7 607.7 L712.0 607.7 Z" fill="#fff" stroke="#333" stroke-width="1"/>
<rect x="712.0" y="607.7" width="127.7" height="9.4" fill="#cdcdcd" stroke="#333" stroke-width="1"/>
<rect x="715.2" y="580" width="3.5" height="9" rx="1" fill="none" stroke="#333" stroke-width="0.9"/>
<circle cx="716.95" cy="584.5" r="1" fill="#333"/>
<rect x="831.7" y="580" width="3.5" height="9" rx="1" fill="none" stroke="#333" stroke-width="0.9"/>
<circle cx="833.45" cy="584.5" r="1" fill="#333"/>
<path d="M810.7 627.5 Q821.7 622 829.7 626" stroke="#555" stroke-width="0.8" fill="none"/><ellipse cx="808.3" cy="628.6" rx="3" ry="1.8" fill="#222"/>
<path d="M705.0999999999999 566 L705.0999999999999 556 Q706.7 544 716.7 541.4 L838.5 541.4 Q847.7 544 847.7 556 L847.7 566" fill="none" stroke="#333" stroke-width="1"/>
<path d="M712.7 566 L712.7 558 Q713.7 551.4 721.7 551.4 L832.7 551.4 Q839.7 551.4 840.7 558 L840.7 566" fill="none" stroke="#333" stroke-width="1"/>
<path d="M705.0999999999999 566 L705.0999999999999 558 Q705.7 549 714.7 548 L716.7 556 Q712.7 558 712.7 566 Z" fill="#b0b0b0" stroke="#333" stroke-width="0.8"/>
<path d="M847.7 566 L847.7 558 Q846.7 549 837.7 548 L835.7 556 Q840.7 558 840.7 566 Z" fill="#b0b0b0" stroke="#333" stroke-width="0.8"/>
<circle cx="778.00" cy="504.90" r="6.4" fill="none" stroke="#222" stroke-width="1.1"/>
<text x="778.00" y="508.80" font-size="11" font-weight="bold" fill="#222" text-anchor="middle" class="sf">F</text>
<circle cx="777.10" cy="527.10" r="6.4" fill="none" stroke="#222" stroke-width="1.1"/>
<text x="777.10" y="531.00" font-size="11" font-weight="bold" fill="#222" text-anchor="middle" class="sf">A</text>
<line x1="777.1" y1="533.5" x2="777.10" y2="548.50" stroke="#333" stroke-width="0.9"/>
<path d="M777.1 552 L775.52 548.50 L778.68 548.50Z" fill="#333"/>
<circle cx="754.30" cy="582.90" r="6.4" fill="none" stroke="#222" stroke-width="1.1"/>
<text x="754.30" y="586.80" font-size="11" font-weight="bold" fill="#222" text-anchor="middle" class="sf">E</text>
<line x1="754.3" y1="576.5" x2="754.30" y2="569.50" stroke="#333" stroke-width="0.9"/>
<path d="M754.3 566 L755.88 569.50 L752.72 569.50Z" fill="#333"/>
<circle cx="795.70" cy="582.90" r="6.4" fill="none" stroke="#222" stroke-width="1.1"/>
<text x="795.70" y="586.80" font-size="11" font-weight="bold" fill="#222" text-anchor="middle" class="sf">D</text>
<line x1="795.7" y1="589.3" x2="795.70" y2="597.50" stroke="#333" stroke-width="0.9"/>
<path d="M795.7 601 L794.12 597.50 L797.28 597.50Z" fill="#333"/>
<circle cx="690.00" cy="592.90" r="6.4" fill="none" stroke="#222" stroke-width="1.1"/>
<text x="690.00" y="596.80" font-size="11" font-weight="bold" fill="#222" text-anchor="middle" class="sf">C</text>
<line x1="696.4" y1="592.9" x2="701.50" y2="592.90" stroke="#333" stroke-width="0.9"/>
<path d="M705 592.9 L701.50 594.48 L701.50 591.32Z" fill="#333"/>
<circle cx="862.90" cy="592.90" r="6.4" fill="none" stroke="#222" stroke-width="1.1"/>
<text x="862.90" y="596.80" font-size="11" font-weight="bold" fill="#222" text-anchor="middle" class="sf">B</text>
<line x1="856.5" y1="592.9" x2="848" y2="592.9" stroke="#333" stroke-width="0.9"/>
<circle cx="719.3" cy="517" r="14.9" fill="#fff" stroke="#333" stroke-width="1"/>
<line x1="721.5" y1="502.2" x2="721.5" y2="511" stroke="#333" stroke-width="1"/>
<line x1="709.8" y1="527.9" x2="716.3" y2="523.5" stroke="#333" stroke-width="1"/>
<ellipse cx="713.3" cy="517" rx="5.2" ry="5.5" fill="#b3a683" stroke="#3a3020" stroke-width="1.2"/>
<ellipse cx="721.3" cy="517" rx="5.8" ry="5.8" fill="#c9c1a2"/>
<circle cx="714.3" cy="517.5" r="2" fill="#4a4030"/><circle cx="722.8" cy="517" r="2.2" fill="#3e3628"/>
<circle cx="839" cy="517" r="14.9" fill="#fff" stroke="#333" stroke-width="1"/>
<line x1="836.8" y1="502.2" x2="836.8" y2="511" stroke="#999" stroke-width="1"/>
<line x1="841.7" y1="522" x2="848.3" y2="527.4" stroke="#333" stroke-width="1"/>
<ellipse cx="845" cy="517" rx="5.2" ry="5.5" fill="#b3a683" stroke="#3a3020" stroke-width="1.2"/>
<ellipse cx="837" cy="517" rx="5.8" ry="5.8" fill="#c9c1a2"/>
<circle cx="844" cy="517.5" r="2" fill="#4a4030"/><circle cx="835.5" cy="517" r="2.2" fill="#3e3628"/>
<line x1="771.6" y1="503.6" x2="738.60" y2="510.57" stroke="#333" stroke-width="0.9"/>
<path d="M734.2 511.5 L738.18 508.59 L739.02 512.55Z" fill="#333"/>
<line x1="784.4" y1="503.6" x2="819.39" y2="510.62" stroke="#333" stroke-width="0.9"/>
<path d="M823.8 511.5 L818.99 512.60 L819.79 508.63Z" fill="#333"/>
<line x1="717.4" y1="531.9" x2="717.4" y2="560" stroke="#333" stroke-width="0.9"/><line x1="838" y1="531.9" x2="838" y2="560" stroke="#333" stroke-width="0.9"/>
<circle cx="782.3" cy="652.9" r="13.4" fill="#1c1c1c"/>
<text x="782.3" y="662.1999999999999" font-size="26" font-weight="bold" fill="#fff" stroke="#fff" stroke-width="0.5" text-anchor="middle">4</text>
</svg>
</body></html>
